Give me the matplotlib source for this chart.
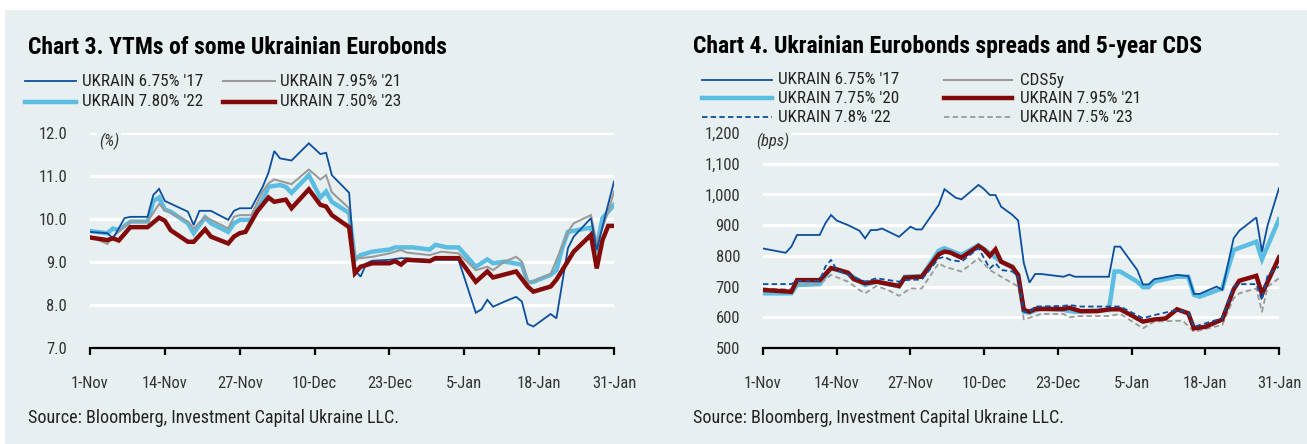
import matplotlib
matplotlib.use("Agg")
import matplotlib.pyplot as plt
import matplotlib.dates as mdates
import pandas as pd
from matplotlib.lines import Line2D
from matplotlib.patches import Rectangle

# ---------------- data (day offsets from 1-Nov-2013) ----------------
start_date = "2013-11-01"
tick_days = [0, 13, 26, 39, 52, 65, 78, 91]

# Chart 3: YTMs (%)
ytm17_days = [0, 3, 4, 6, 7, 10, 11, 12, 13, 17, 18, 19, 21, 24, 25, 26, 28, 30, 31, 32, 33, 35, 38, 40, 41, 42, 45, 46, 47, 48, 49, 52, 54, 59, 64, 67, 68, 69, 70, 72, 74, 75, 76, 77, 80, 81, 83, 84, 87, 88, 90, 91]
ytm17_vals = [9.70, 9.67, 9.55, 10.02, 10.05, 10.05, 10.56, 10.70, 10.42, 10.17, 9.86, 10.19, 10.19, 9.98, 10.19, 10.25, 10.25, 10.75, 11.08, 11.58, 11.41, 11.36, 11.76, 11.51, 11.54, 11.02, 10.61, 8.80, 8.66, 8.97, 9.03, 9.05, 9.09, 9.05, 9.05, 7.82, 7.90, 8.12, 7.96, 8.08, 8.19, 8.08, 7.56, 7.50, 7.79, 7.69, 9.32, 9.59, 10.02, 9.28, 10.35, 10.87]

ytm21_days = [0, 3, 4, 7, 10, 12, 13, 17, 18, 20, 24, 25, 26, 28, 30, 31, 32, 35, 38, 40, 41, 42, 45, 46, 47, 49, 52, 54, 55, 59, 61, 64, 67, 69, 70, 72, 74, 75, 76, 80, 83, 84, 87, 88, 90, 91]
ytm21_vals = [9.60, 9.42, 9.59, 9.94, 9.94, 10.35, 10.21, 9.94, 9.78, 10.05, 9.78, 10.05, 10.09, 10.09, 10.64, 10.83, 10.92, 10.81, 11.15, 10.92, 11.02, 10.62, 10.25, 9.11, 9.09, 9.12, 9.20, 9.28, 9.22, 9.16, 9.24, 9.20, 8.81, 8.89, 8.81, 9.01, 9.12, 9.01, 8.50, 8.72, 9.70, 9.90, 10.09, 9.43, 10.17, 10.64]

ytm22_days = [0, 3, 4, 5, 7, 10, 11, 12, 13, 14, 17, 18, 20, 21, 24, 25, 26, 28, 30, 31, 33, 34, 35, 38, 40, 41, 42, 45, 46, 47, 49, 52, 53, 56, 59, 60, 62, 64, 67, 69, 70, 72, 75, 76, 77, 80, 81, 82, 83, 87, 88, 89, 91]
ytm22_vals = [9.72, 9.67, 9.78, 9.74, 9.94, 9.94, 10.42, 10.50, 10.22, 10.17, 9.90, 9.67, 10.04, 9.90, 9.70, 9.90, 9.98, 9.98, 10.44, 10.75, 10.79, 10.75, 10.61, 11.02, 10.50, 10.64, 10.40, 10.14, 9.05, 9.16, 9.24, 9.29, 9.34, 9.34, 9.29, 9.40, 9.34, 9.34, 8.89, 9.06, 8.97, 9.01, 8.94, 8.52, 8.54, 8.70, 8.81, 9.32, 9.70, 9.80, 9.36, 10.02, 10.33]

ytm23_days = [0, 3, 4, 5, 7, 10, 12, 13, 14, 17, 18, 20, 21, 24, 25, 26, 27, 29, 31, 32, 34, 35, 38, 40, 41, 42, 45, 46, 47, 49, 52, 53, 54, 55, 59, 60, 64, 67, 69, 70, 74, 76, 77, 80, 81, 84, 87, 88, 89, 90, 91]
ytm23_vals = [9.57, 9.51, 9.55, 9.50, 9.81, 9.81, 10.03, 9.96, 9.74, 9.47, 9.47, 9.76, 9.59, 9.43, 9.59, 9.67, 9.70, 10.17, 10.50, 10.40, 10.45, 10.25, 10.69, 10.33, 10.29, 10.09, 9.81, 8.74, 8.89, 8.97, 8.97, 9.02, 8.94, 9.05, 9.02, 9.09, 9.09, 8.54, 8.78, 8.64, 8.78, 8.43, 8.31, 8.43, 8.59, 9.24, 9.63, 8.85, 9.51, 9.84, 9.84]

# Chart 4: spreads (bps)
sp17_days = [0, 4, 5, 6, 10, 11, 12, 13, 15, 17, 18, 19, 20, 21, 24, 26, 27, 28, 31, 32, 34, 35, 38, 39, 40, 41, 42, 44, 45, 46, 47, 48, 49, 53, 54, 55, 61, 62, 63, 66, 67, 68, 69, 70, 73, 75, 76, 77, 80, 81, 83, 84, 87, 88, 89, 91]
sp17_vals = [824, 810, 830, 868, 868, 906, 933, 915, 900, 882, 857, 884, 884, 889, 862, 895, 886, 886, 966, 1017, 989, 984, 1031, 1017, 998, 998, 960, 933, 915, 776, 713, 741, 741, 732, 739, 732, 732, 830, 830, 754, 707, 707, 724, 727, 738, 734, 676, 676, 700, 689, 857, 882, 925, 814, 900, 1020]

sp20_days = [0, 5, 6, 10, 12, 15, 18, 20, 24, 25, 28, 31, 32, 35, 38, 40, 42, 44, 45, 46, 47, 49, 53, 55, 61, 62, 63, 66, 67, 68, 69, 73, 75, 76, 77, 81, 83, 87, 88, 91]
sp20_vals = [678, 678, 705, 708, 760, 743, 705, 716, 700, 732, 734, 817, 825, 803, 835, 808, 781, 765, 732, 618, 615, 629, 624, 618, 624, 749, 749, 716, 698, 698, 716, 732, 732, 673, 667, 694, 819, 846, 789, 919]

cds5y_days = []
cds5y_vals = []

sp21_days = [0, 5, 6, 10, 12, 13, 15, 16, 18, 20, 24, 25, 28, 31, 32, 33, 35, 38, 39, 40, 41, 42, 44, 45, 46, 47, 48, 53, 54, 56, 59, 61, 63, 67, 69, 71, 73, 75, 76, 78, 81, 83, 84, 87, 88, 91]
sp21_vals = [689, 683, 721, 721, 760, 756, 745, 724, 711, 716, 702, 729, 732, 805, 814, 811, 794, 832, 820, 800, 821, 781, 763, 738, 624, 618, 627, 627, 631, 620, 620, 626, 626, 586, 593, 596, 626, 613, 564, 569, 593, 691, 719, 735, 676, 795]

sp22_days = [0, 5, 6, 10, 11, 12, 13, 18, 20, 24, 25, 28, 31, 32, 33, 35, 38, 40, 41, 42, 44, 45, 46, 47, 48, 53, 54, 56, 63, 67, 69, 73, 75, 76, 81, 83, 84, 87, 88, 89, 91]
sp22_vals = [708, 708, 719, 719, 765, 787, 754, 716, 727, 716, 721, 723, 792, 797, 787, 781, 825, 759, 776, 754, 749, 732, 618, 615, 635, 637, 640, 635, 635, 597, 607, 624, 615, 569, 597, 700, 708, 708, 656, 738, 765]

sp23_days = [0, 5, 6, 10, 12, 15, 17, 18, 20, 22, 24, 26, 28, 31, 32, 35, 38, 40, 42, 44, 45, 46, 48, 49, 53, 54, 56, 61, 63, 67, 69, 74, 76, 81, 83, 84, 87, 88, 89, 91]
sp23_vals = [694, 691, 708, 708, 738, 716, 689, 678, 702, 689, 670, 694, 694, 776, 765, 749, 792, 754, 732, 711, 700, 593, 604, 611, 611, 600, 604, 604, 611, 564, 586, 589, 553, 575, 662, 678, 694, 618, 700, 727]

ytm_ticks = [7.0, 8.0, 9.0, 10.0, 11.0, 12.0]
sp_ticks = [500, 600, 700, 800, 900, 1000, 1100, 1200]

# ---------------- style ----------------
W, H = 1307, 444
BG = "#e7eff0"
DBLUE = "#0b4f9e"
LBLUE = "#5bbde2"
GREY = "#9a9a9a"
DRED = "#840a0a"
TXT = "#333333"
FONT = ["Roboto Condensed", "Archivo Narrow", "Liberation Sans Narrow", "DejaVu Sans"]
plt.rcParams["font.family"] = FONT

base = pd.Timestamp(start_date)


def to_dates(days):
    return [base + pd.Timedelta(days=d) for d in days]


def fx(x):
    return x / W


def fy(y):
    return 1 - y / H


fig = plt.figure(figsize=(W / 100, H / 100), dpi=100, facecolor="white")
renderer = fig.canvas.get_renderer()


def fit_size(sample, target_px, **kw):
    t = fig.text(0, 0, sample, fontsize=10, **kw)
    w = t.get_window_extent(renderer=renderer).width
    t.remove()
    return 10 * target_px / w


TITLE_FS = fit_size("Chart 3. YTMs of some Ukrainian Eurobonds", 418, fontweight="bold")
LEG_FS = fit_size("UKRAIN 6.75% '17", 121)
SRC_FS = fit_size("Source: Bloomberg, Investment Capital Ukraine LLC.", 370)
TICK_FS = fit_size("27-Nov", 46)

fig.patches.append(Rectangle((fx(5), 0), 1 - fx(5), fy(10), transform=fig.transFigure,
                             facecolor=BG, edgecolor="none", zorder=-10))


def style_axis(ax, ylim, yticks, labels):
    ax.set_facecolor("none")
    for s in ["top", "right", "left"]:
        ax.spines[s].set_visible(False)
    ax.spines["bottom"].set_linewidth(1.6)
    ax.spines["bottom"].set_zorder(8)
    ax.set_xlim(base, base + pd.Timedelta(days=91))
    ax.set_ylim(*ylim)
    ax.set_yticks(yticks)
    ax.set_yticklabels(labels)
    ax.set_xticks(to_dates(tick_days))
    ax.xaxis.set_major_formatter(mdates.DateFormatter("%-d-%b"))
    ax.yaxis.grid(True, color="white", lw=2.2)
    ax.set_axisbelow(True)
    ax.tick_params(axis="y", length=0, pad=16.5, labelsize=TICK_FS, labelcolor=TXT)
    ax.tick_params(axis="x", length=5, width=1.6, direction="out", pad=15.5, labelsize=TICK_FS,
                   labelcolor=TXT)


# ---------------- Chart 3 ----------------
ax1 = fig.add_axes([fx(90), fy(348), fx(524), 215 / H])
s3 = [
    ("UKRAIN 6.75% '17", ytm17_days, ytm17_vals, dict(color=DBLUE, lw=1.3), 4),
    ("UKRAIN 7.95% '21", ytm21_days, ytm21_vals, dict(color=GREY, lw=1.5), 3),
    ("UKRAIN 7.80% '22", ytm22_days, ytm22_vals, dict(color=LBLUE, lw=3.2), 2),
    ("UKRAIN 7.50% '23", ytm23_days, ytm23_vals, dict(color=DRED, lw=3.2), 6),
]
for name, d, v, st, z in s3:
    ax1.plot(to_dates(d), v, zorder=z, solid_joinstyle="miter", **st)
style_axis(ax1, (7, 12), ytm_ticks, [f"{v:.1f}" for v in ytm_ticks])
fig.text(fx(99), fy(141), "(%)", fontsize=TICK_FS, style="italic", color=TXT, va="center", ha="left",
         bbox=dict(facecolor=BG, edgecolor="none", pad=1.5), zorder=10)

# ---------------- Chart 4 ----------------
ax2 = fig.add_axes([fx(763), fy(348), fx(516), 215 / H])
s4 = [
    ("UKRAIN 6.75% '17", sp17_days, sp17_vals, dict(color=DBLUE, lw=1.3), 3),
    ("UKRAIN 7.75% '20", sp20_days, sp20_vals, dict(color=LBLUE, lw=3.2), 2),
    ("UKRAIN 7.8% '22", sp22_days, sp22_vals, dict(color=DBLUE, lw=1.3, linestyle=(0, (3.0, 1.8))), 6),
    ("CDS5y", cds5y_days, cds5y_vals, dict(color=GREY, lw=1.5), 1),
    ("UKRAIN 7.95% '21", sp21_days, sp21_vals, dict(color=DRED, lw=3.2), 5),
    ("UKRAIN 7.5% '23", sp23_days, sp23_vals, dict(color=GREY, lw=1.3, linestyle=(0, (3.0, 1.8))), 4),
]
for name, d, v, st, z in s4:
    ax2.plot(to_dates(d), v, zorder=z, solid_joinstyle="miter", **st)
style_axis(ax2, (500, 1200), sp_ticks, [f"{v:,}" for v in sp_ticks])
fig.text(fx(756), fy(141), "(bps)", fontsize=TICK_FS, style="italic", color=TXT, va="center", ha="left",
         bbox=dict(facecolor=BG, edgecolor="none", pad=1.5), zorder=10)

# ---------------- titles, legends, sources ----------------
fig.text(fx(28), fy(47), "Chart 3. YTMs of some Ukrainian Eurobonds", fontsize=TITLE_FS, fontweight="bold",
         color="black", va="center", ha="left")
fig.text(fx(693), fy(47), "Chart 4. Ukrainian Eurobonds spreads and 5-year CDS", fontsize=TITLE_FS,
         fontweight="bold", color="black", va="center", ha="left")


def legend_entry(x0, x1, xt, y, label, st):
    fig.add_artist(Line2D([fx(x0), fx(x1)], [fy(y), fy(y)], transform=fig.transFigure, **st))
    fig.text(fx(xt), fy(y), label, fontsize=LEG_FS, color="#222222", va="center", ha="left")


leg3_pos = [(25, 76, 82, 81), (223, 275, 280, 81), (25, 76, 82, 102), (223, 275, 280, 102)]
for (x0, x1, xt, y), i in zip(leg3_pos, range(4)):
    legend_entry(x0, x1, xt, y, s3[i][0], s3[i][3])

leg4_pos = [(702, 772, 778, 80), (702, 772, 778, 98.5), (702, 772, 778, 117),
            (944, 1012, 1020, 80), (944, 1012, 1020, 98.5), (944, 1012, 1020, 117)]
for (x0, x1, xt, y), i in zip(leg4_pos, range(6)):
    legend_entry(x0, x1, xt, y, s4[i][0], s4[i][3])

src = "Source: Bloomberg, Investment Capital Ukraine LLC."
fig.text(fx(28), fy(418), src, fontsize=SRC_FS, color="#222222", va="center", ha="left")
fig.text(fx(693), fy(418), src, fontsize=SRC_FS, color="#222222", va="center", ha="left")

fig.savefig("out.png", dpi=100, facecolor="white")
